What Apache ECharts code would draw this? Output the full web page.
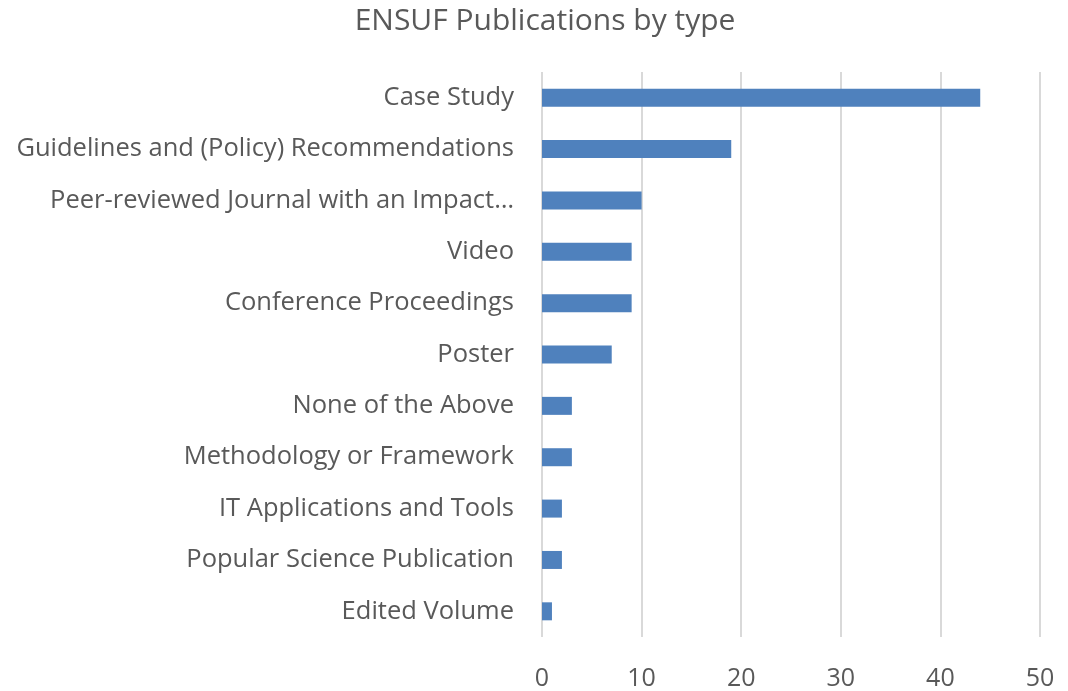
<!DOCTYPE html>
<html>
<head>
<meta charset="utf-8">
<script src="https://cdn.jsdelivr.net/npm/echarts@6/dist/echarts.min.js"></script>
<style>
  html, body { margin: 0; padding: 0; background: #fff; }
  #chart { width: 1068px; height: 691px; }
</style>
</head>
<body>
<div id="chart"></div>
<script>
// Publication types, top to bottom as in the chart
var categories = [
    'Case Study',
    'Guidelines and (Policy) Recommendations',
    'Peer-reviewed Journal with an Impact…',
    'Video',
    'Conference Proceedings',
    'Poster',
    'None of the Above',
    'Methodology or Framework',
    'IT Applications and Tools',
    'Popular Science Publication',
    'Edited Volume'
];
var counts = [44, 19, 10, 9, 9, 7, 3, 3, 2, 2, 1];
var xTicks = [0, 10, 20, 30, 40, 50];

var chartDom = document.getElementById('chart');
var chart = echarts.init(chartDom);
var font = '"Open Sans", sans-serif';

var option = {
    animation: false,
    title: {
        text: 'ENSUF Publications by type',
        left: 540,
        textAlign: 'center',
        top: 1,
        textStyle: { fontFamily: font, fontSize: 30, fontWeight: 'normal', color: '#595959' }
    },
    grid: { left: 542, right: 28, top: 72, bottom: 51, containLabel: false },
    xAxis: {
        type: 'value',
        min: xTicks[0],
        max: xTicks[xTicks.length - 1],
        interval: 10,
        axisLine: { show: false },
        axisTick: { show: false },
        splitLine: { show: true, lineStyle: { color: '#d9d9d9', width: 2 } },
        axisLabel: { fontFamily: font, fontSize: 25, color: '#595959', margin: 29 }
    },
    yAxis: {
        type: 'category',
        inverse: true,
        data: categories,
        axisLine: { show: false },
        axisTick: { show: false },
        axisLabel: { fontFamily: font, fontSize: 25.5, color: '#595959', margin: 28, padding: [0, 0, 6, 0] }
    },
    series: [
        {
            type: 'bar',
            data: counts,
            barWidth: 18,
            itemStyle: { color: '#4f81bd' }
        }
    ]
};

option && chart.setOption(option);
</script>
</body>
</html>
